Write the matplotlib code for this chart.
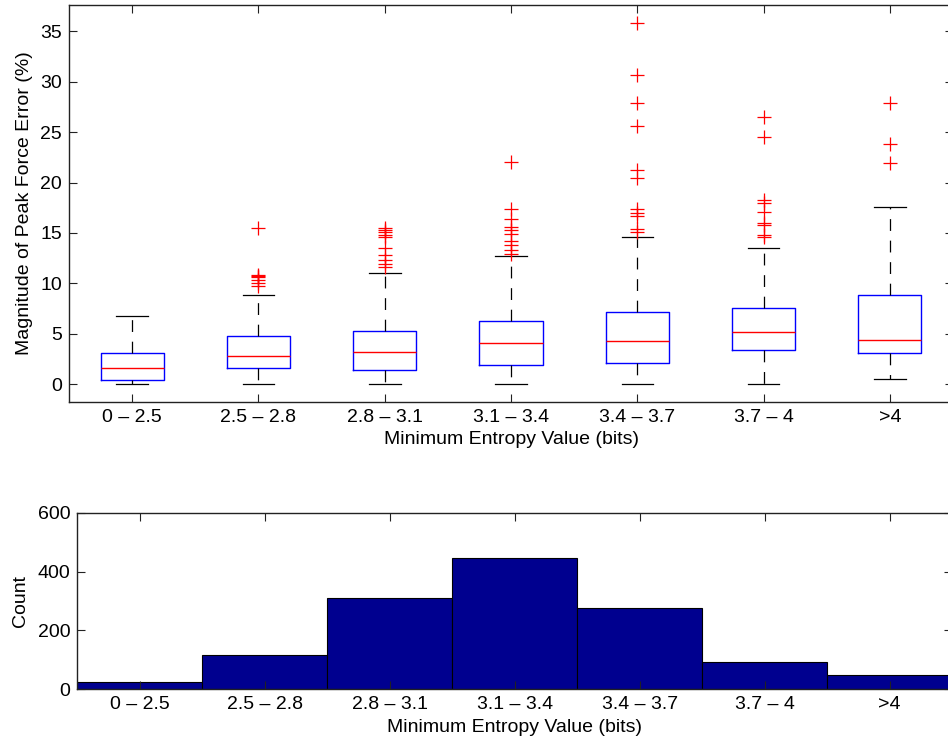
import matplotlib
matplotlib.use('Agg')
from matplotlib import pyplot as plt

plt.rcParams['font.family'] = ['Liberation Sans', 'DejaVu Sans']
plt.rcParams['lines.scale_dashes'] = False

labels = ['0 – 2.5', '2.5 – 2.8', '2.8 – 3.1', '3.1 – 3.4', '3.4 – 3.7', '3.7 – 4', '>4']

# box statistics (percent)
whislo = [0.0, 0.0, 0.0, 0.0, 0.0, 0.0, 0.53]
q1 = [0.43, 1.59, 1.39, 1.88, 2.08, 3.40, 3.07]
med = [1.59, 2.81, 3.23, 4.13, 4.29, 5.19, 4.39]
q3 = [3.07, 4.76, 5.31, 6.25, 7.14, 7.56, 8.88]
whishi = [6.74, 8.88, 11.03, 12.72, 14.60, 13.48, 17.58]
fliers = [
    [],
    [15.5, 10.85, 10.75, 10.6, 10.34, 10.01, 9.75],
    [15.53, 15.3, 15.07, 14.8, 14.63, 13.48, 12.82, 12.32, 11.9, 11.66],
    [22.0, 17.35, 16.36, 15.6, 15.3, 14.9, 14.24, 13.8, 13.32, 12.92],
    [35.8, 30.7, 27.9, 25.6, 21.2, 20.4, 17.35, 16.95, 16.7, 15.4, 15.07],
    [26.5, 24.55, 18.25, 17.95, 17.08, 16.02, 15.76, 14.77, 14.6],
    [27.9, 23.82, 21.97],
]

counts = [24, 116, 309, 445, 277, 94, 48]

W, H = 948, 746
fig = plt.figure(figsize=(W / 100, H / 100), dpi=100)

# top: box plot
ax1 = fig.add_axes([69 / W, (H - 402) / H, (953 - 69) / W, (402 - 5) / H])
stats = []
for i in range(len(labels)):
    stats.append({'whislo': whislo[i], 'q1': q1[i], 'med': med[i], 'q3': q3[i],
                  'whishi': whishi[i], 'fliers': fliers[i], 'label': labels[i]})
pos = list(range(1, len(labels) + 1))
ax1.bxp(stats, positions=pos, widths=0.5, capwidths=0.25,
        boxprops=dict(color='#0000FF', linewidth=1.0),
        medianprops=dict(color='#FF0000', linewidth=1.0),
        whiskerprops=dict(color='black', linewidth=0.9, linestyle=(0, (8.5, 7))),
        capprops=dict(color='black', linewidth=0.9),
        flierprops=dict(marker='+', markeredgecolor='#FF0000', markersize=10,
                        markeredgewidth=0.9, linestyle='none'))
ax1.set_xlim(0.5, 7.5)
ax1.set_ylim(-1.76, 37.6)
ax1.set_yticks([0, 5, 10, 15, 20, 25, 30, 35])
ax1.set_xticks(pos)
ax1.set_xticklabels(labels)
ax1.set_ylabel('Magnitude of Peak Force Error (%)', fontsize=14, labelpad=5)
ax1.set_xlabel('Minimum Entropy Value (bits)', fontsize=14, labelpad=4)

# bottom: counts
ax2 = fig.add_axes([77.3 / W, (H - 689.3) / H, (952 - 77.3) / W, (689.3 - 512.7) / H])
ax2.bar(pos, counts, width=1.0, color='#00008F', edgecolor='black', linewidth=0.8)
ax2.set_xlim(0.5, 7.5)
ax2.set_ylim(0, 600)
ax2.set_yticks([0, 200, 400, 600])
ax2.set_xticks(pos)
ax2.set_xticklabels(labels)
ax2.set_ylabel('Count', fontsize=14, labelpad=6)
ax2.set_xlabel('Minimum Entropy Value (bits)', fontsize=14, labelpad=4)

for ax in (ax1, ax2):
    ax.tick_params(direction='in', length=6, width=0.8, labelsize=14, pad=5,
                   top=True, right=True, color='#222222')
    for s in ax.spines.values():
        s.set_linewidth(1.0)
        s.set_color('#222222')

fig.savefig('out.png', dpi=100)
